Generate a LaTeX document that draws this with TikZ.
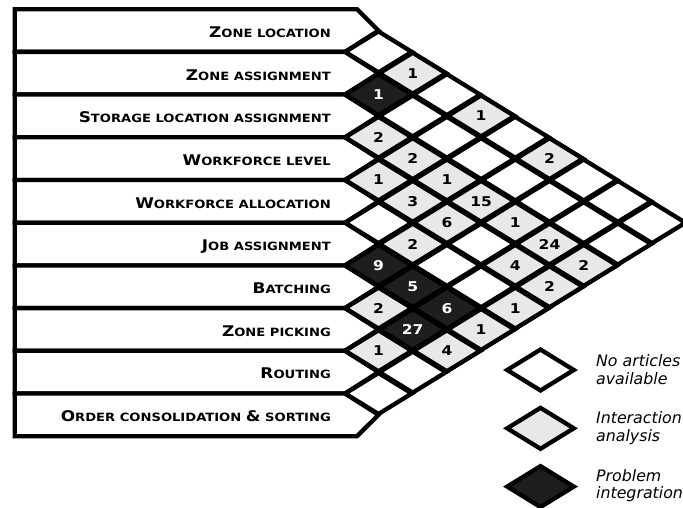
\documentclass[tikz,border=0pt]{standalone}
\usepackage{fontspec}
\setmainfont{DejaVu Sans}[FakeStretch=1.15]
\newfontfamily\keyfont{DejaVu Sans}
\usepackage{tikz}
\usetikzlibrary{shapes.geometric}
\definecolor{cl}{RGB}{232, 232, 232}
\definecolor{cd}{RGB}{30, 30, 30}
\newcommand{\capa}{\fontsize{14.7}{16}\selectfont}
\newcommand{\capb}{\fontsize{11.4}{12}\selectfont}

\begin{document}
\begin{tikzpicture}[line width=4.3pt,
  rowbox/.style={draw=black, fill=white},
  rowtext/.style={anchor=base east, inner sep=0pt, font=\bfseries},
  cell/.style={diamond, draw=black, fill=white, minimum width=68.4pt, minimum height=42.7pt, inner sep=0pt, font=\fontsize{13.5}{14}\bfseries\selectfont},
  inter/.style={cell, fill=cl, text=black},
  integ/.style={cell, fill=cd, text=white},
  keytext/.style={anchor=west, inner sep=0pt, align=left, font=\keyfont\fontsize{15.8}{17.5}\selectfont\itshape}]
\useasboundingbox (0pt,0pt) rectangle (683pt,-508pt);
% row boxes
\draw [rowbox] (14.7pt,-9.2pt) -- (357pt,-9.2pt) -- (378.5pt,-30.55pt) -- (345pt,-51.9pt) -- (14.7pt,-51.9pt) -- cycle;
\draw [rowbox] (14.7pt,-51.9pt) -- (345pt,-51.9pt) -- (378.5pt,-73.25pt) -- (345pt,-94.6pt) -- (14.7pt,-94.6pt) -- cycle;
\draw [rowbox] (14.7pt,-94.6pt) -- (345pt,-94.6pt) -- (378.5pt,-115.95pt) -- (345pt,-137.3pt) -- (14.7pt,-137.3pt) -- cycle;
\draw [rowbox] (14.7pt,-137.3pt) -- (345pt,-137.3pt) -- (378.5pt,-158.65pt) -- (345pt,-180.0pt) -- (14.7pt,-180.0pt) -- cycle;
\draw [rowbox] (14.7pt,-180.0pt) -- (345pt,-180.0pt) -- (378.5pt,-201.35pt) -- (345pt,-222.7pt) -- (14.7pt,-222.7pt) -- cycle;
\draw [rowbox] (14.7pt,-222.7pt) -- (345pt,-222.7pt) -- (378.5pt,-244.05pt) -- (345pt,-265.4pt) -- (14.7pt,-265.4pt) -- cycle;
\draw [rowbox] (14.7pt,-265.4pt) -- (345pt,-265.4pt) -- (378.5pt,-286.75pt) -- (345pt,-308.1pt) -- (14.7pt,-308.1pt) -- cycle;
\draw [rowbox] (14.7pt,-308.1pt) -- (345pt,-308.1pt) -- (378.5pt,-329.45pt) -- (345pt,-350.8pt) -- (14.7pt,-350.8pt) -- cycle;
\draw [rowbox] (14.7pt,-350.8pt) -- (345pt,-350.8pt) -- (378.5pt,-372.15pt) -- (345pt,-393.5pt) -- (14.7pt,-393.5pt) -- cycle;
\draw [rowbox] (14.7pt,-393.5pt) -- (345pt,-393.5pt) -- (378.5pt,-414.85pt) -- (357pt,-436.2pt) -- (14.7pt,-436.2pt) -- cycle;
\node (1) [rowtext] at (333pt,-37.35pt) {{\capa Z}{\capb ONE LOCATION}};
\node (2) [rowtext] at (333pt,-80.05pt) {{\capa Z}{\capb ONE ASSIGNMENT}};
\node (3) [rowtext] at (333pt,-122.75pt) {{\capa S}{\capb TORAGE LOCATION ASSIGNMENT}};
\node (4) [rowtext] at (333pt,-165.45pt) {{\capa W}{\capb ORKFORCE LEVEL}};
\node (5) [rowtext] at (333pt,-208.15pt) {{\capa W}{\capb ORKFORCE ALLOCATION}};
\node (6) [rowtext] at (333pt,-250.85pt) {{\capa J}{\capb OB ASSIGNMENT}};
\node (7) [rowtext] at (333pt,-293.55pt) {{\capa B}{\capb ATCHING}};
\node (8) [rowtext] at (333pt,-336.25pt) {{\capa Z}{\capb ONE PICKING}};
\node (9) [rowtext] at (333pt,-378.95pt) {{\capa R}{\capb OUTING}};
\node (10) [rowtext] at (333pt,-421.65pt) {{\capa O}{\capb RDER CONSOLIDATION }{\capa \&}{\capb{} SORTING}};
% grid of pairs
\foreach \i in {1,...,9} {
  \pgfmathtruncatemacro{\k}{\i+1}
  \foreach \j in {\k,...,10}
    \node (c\i-\j) [cell] at ({378.5pt+(\j-\i-1)*34.2pt}, {-30.55pt-(\i+\j-2)*21.35pt}) {};
}
\node (n1-3) [inter] at (c1-3) {1};
\node (n1-5) [inter] at (c1-5) {1};
\node (n1-7) [inter] at (c1-7) {2};
\node (n2-3) [integ] at (c2-3) {1};
\node (n3-4) [inter] at (c3-4) {2};
\node (n3-5) [inter] at (c3-5) {2};
\node (n3-6) [inter] at (c3-6) {1};
\node (n3-7) [inter] at (c3-7) {15};
\node (n3-8) [inter] at (c3-8) {1};
\node (n3-9) [inter] at (c3-9) {24};
\node (n3-10) [inter] at (c3-10) {2};
\node (n4-5) [inter] at (c4-5) {1};
\node (n4-6) [inter] at (c4-6) {3};
\node (n4-7) [inter] at (c4-7) {6};
\node (n4-9) [inter] at (c4-9) {4};
\node (n4-10) [inter] at (c4-10) {2};
\node (n5-7) [inter] at (c5-7) {2};
\node (n5-10) [inter] at (c5-10) {1};
\node (n6-7) [integ] at (c6-7) {9};
\node (n6-8) [integ] at (c6-8) {5};
\node (n6-9) [integ] at (c6-9) {6};
\node (n6-10) [inter] at (c6-10) {1};
\node (n7-8) [inter] at (c7-8) {2};
\node (n7-9) [integ] at (c7-9) {27};
\node (n7-10) [inter] at (c7-10) {4};
\node (n8-9) [inter] at (c8-9) {1};
% legend
\node (k1) [cell] at (540.5pt,-370pt) {};
\node (k2) [inter] at (540.5pt,-428.3pt) {};
\node (k3) [integ] at (540.5pt,-486.6pt) {};
\node (t1) [keytext] at (594pt,-369.5pt) {No articles\\available};
\node (t2) [keytext] at (594pt,-428pt) {Interaction\\analysis};
\node (t3) [keytext] at (594pt,-485.5pt) {Problem\\integration};
\end{tikzpicture}
\end{document}
